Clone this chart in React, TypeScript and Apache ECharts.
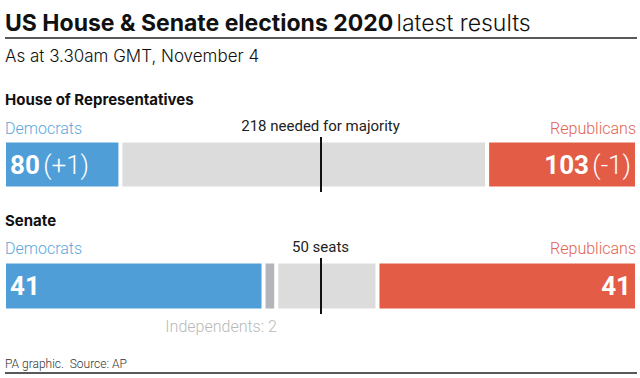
import React, { useEffect, useRef } from "react";
import * as echarts from "echarts";

const FONT = "Roboto, 'Noto Sans', sans-serif";
const HFONT = "Inter, Roboto, sans-serif";

const parties = ["Democrats", "Independents", "Undecided", "Republicans"];
const houseSeats = [80, 0, 252, 103];
const houseChange = [1, 0, 0, -1];
const houseMajority = 217.5;
const houseTotal = 435;
const senateSeats = [41, 2, 16, 41];
const senateMajority = 50;
const senateTotal = 100;

const colors = ["#4f9ed8", "#b3b5ba", "#dcdcdc", "#e35c46"];
const demText = "#5ba6dc";
const repText = "#e2644f";

const sign = (n: number) => (n > 0 ? "+" + n : String(n));

export default function App() {
  const ref = useRef<HTMLDivElement>(null);
  useEffect(() => {
    if (!ref.current) return;
    const chart = echarts.init(ref.current, null, { renderer: "svg" });

    const bigLabel = (side: "left" | "right", value: number, change: number | null) => ({
      show: true,
      position: side === "left" ? "insideLeft" : "insideRight",
      distance: 6,
      formatter: change === null ? `{b|${value}}` : `{b|${value}} {l|(${sign(change)})}`,
      rich: {
        b: { fontFamily: FONT, fontSize: 26, fontWeight: "bold", color: "#fff" },
        l: { fontFamily: FONT, fontSize: 26, fontWeight: 300, color: "#fff" },
      },
    });

    const makeSeries = (
      seats: number[],
      change: number[] | null,
      gridIdx: number,
      majority: number,
      majorityText: string,
      barWidth: number
    ) =>
      seats.map((v, i) => {
        const s: any = {
          type: "bar",
          name: parties[i],
          stack: "s" + gridIdx,
          xAxisIndex: gridIdx,
          yAxisIndex: gridIdx,
          barWidth,
          data: [v],
          itemStyle: { color: colors[i], borderColor: "#fff", borderWidth: 2 },
          label: { show: false },
          emphasis: { disabled: true },
        };
        if (i === 0) s.label = bigLabel("left", v, change ? change[i] : null);
        if (i === 3) s.label = bigLabel("right", v, change ? change[i] : null);
        if (i === 1 && v > 0) {
          s.label = {
            show: true,
            position: "bottom",
            distance: 8,
            align: "right",
            offset: [7, 0],
            formatter: `Independents: ${v}`,
            fontFamily: FONT,
            fontSize: 16,
            fontWeight: 300,
            color: "#b9b9b9",
          };
        }
        if (i === 2) {
          s.markLine = {
            silent: true,
            symbol: "none",
            animation: false,
            lineStyle: { color: "#111", width: 2, type: "solid" },
            label: {
              show: true,
              position: "end",
              distance: 4,
              formatter: majorityText,
              fontFamily: FONT,
              fontSize: 15,
              color: "#222",
            },
            data: [{ xAxis: majority }],
          };
        }
        return s;
      });

    const headText = (text: string, x: number, y: number, opts: any = {}) => ({
      type: "text",
      x,
      y,
      style: {
        text,
        fontFamily: FONT,
        fontSize: 15,
        fill: "#111",
        verticalAlign: "middle",
        align: "left",
        ...opts,
      },
    });

    chart.setOption({
      animation: false,
      grid: [
        { left: 4, right: 3, top: 137, height: 55 },
        { left: 4, right: 3, top: 258, height: 56 },
      ],
      xAxis: [
        { gridIndex: 0, type: "value", min: 0, max: houseTotal, show: false },
        { gridIndex: 1, type: "value", min: 0, max: senateTotal, show: false },
      ],
      yAxis: [
        { gridIndex: 0, type: "category", data: ["House"], show: false },
        { gridIndex: 1, type: "category", data: ["Senate"], show: false },
      ],
      series: [
        ...makeSeries(houseSeats, houseChange, 0, houseMajority, "218 needed for majority", 48),
        ...makeSeries(senateSeats, null, 1, senateMajority, "50 seats", 49),
      ],
      graphic: [
        {
          type: "text",
          x: 5,
          y: 23,
          style: {
            text: "{b|US House & Senate elections 2020} {l|latest results}",
            verticalAlign: "middle",
            rich: {
              b: { fontFamily: HFONT, fontSize: 23, fontWeight: "bold", fill: "#111" },
              l: { fontFamily: HFONT, fontSize: 23, fontWeight: 300, fill: "#111" },
            },
          },
        },
        {
          type: "line",
          shape: { x1: 5, y1: 38, x2: 637, y2: 38 },
          style: { stroke: "#222", lineWidth: 1.5 },
        },
        headText("As at 3.30am GMT, November 4", 5, 56, { fontFamily: HFONT, fontSize: 17, fontWeight: 300 }),
        headText("House of Representatives", 5, 99, { fontFamily: HFONT, fontWeight: "bold" }),
        headText("Democrats", 5, 128, { fontSize: 16, fontWeight: 300, fill: demText }),
        headText("Republicans", 636, 128, { fontSize: 16, fontWeight: 300, fill: repText, align: "right" }),
        headText("Senate", 5, 220, { fontFamily: HFONT, fontWeight: "bold" }),
        headText("Democrats", 5, 248, { fontSize: 16, fontWeight: 300, fill: demText }),
        headText("Republicans", 636, 248, { fontSize: 16, fontWeight: 300, fill: repText, align: "right" }),
        headText("PA graphic.  Source: AP", 5, 364, { fontSize: 12, fontWeight: 300, fill: "#333" }),
        {
          type: "line",
          shape: { x1: 5, y1: 373, x2: 637, y2: 373 },
          style: { stroke: "#222", lineWidth: 1.5 },
        },
      ],
    });
    return () => chart.dispose();
  }, []);
  return <div ref={ref} style={{ width: 640, height: 378, position: "absolute", left: 0, top: 0 }} />;
}
